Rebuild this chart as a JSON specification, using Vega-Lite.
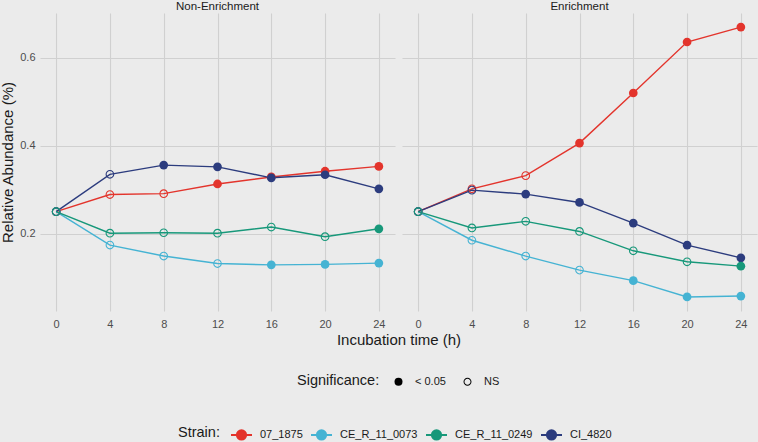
{
  "$schema": "https://vega.github.io/schema/vega-lite/v6.json",
  "background": "#EBEBEB",
  "padding": {"left": 0, "top": 0, "right": 1, "bottom": 0},
  "data": {"values": [
    {"panel":"Non-Enrichment","t":0,"strain":"07_1875","value":0.25,"sig":"NS"},
    {"panel":"Non-Enrichment","t":4,"strain":"07_1875","value":0.289,"sig":"NS"},
    {"panel":"Non-Enrichment","t":8,"strain":"07_1875","value":0.291,"sig":"NS"},
    {"panel":"Non-Enrichment","t":12,"strain":"07_1875","value":0.313,"sig":"< 0.05"},
    {"panel":"Non-Enrichment","t":16,"strain":"07_1875","value":0.329,"sig":"< 0.05"},
    {"panel":"Non-Enrichment","t":20,"strain":"07_1875","value":0.342,"sig":"< 0.05"},
    {"panel":"Non-Enrichment","t":24,"strain":"07_1875","value":0.353,"sig":"< 0.05"},
    {"panel":"Non-Enrichment","t":0,"strain":"CE_R_11_0073","value":0.25,"sig":"NS"},
    {"panel":"Non-Enrichment","t":4,"strain":"CE_R_11_0073","value":0.174,"sig":"NS"},
    {"panel":"Non-Enrichment","t":8,"strain":"CE_R_11_0073","value":0.149,"sig":"NS"},
    {"panel":"Non-Enrichment","t":12,"strain":"CE_R_11_0073","value":0.132,"sig":"NS"},
    {"panel":"Non-Enrichment","t":16,"strain":"CE_R_11_0073","value":0.129,"sig":"< 0.05"},
    {"panel":"Non-Enrichment","t":20,"strain":"CE_R_11_0073","value":0.130,"sig":"< 0.05"},
    {"panel":"Non-Enrichment","t":24,"strain":"CE_R_11_0073","value":0.133,"sig":"< 0.05"},
    {"panel":"Non-Enrichment","t":0,"strain":"CI_4820","value":0.25,"sig":"NS"},
    {"panel":"Non-Enrichment","t":4,"strain":"CI_4820","value":0.335,"sig":"NS"},
    {"panel":"Non-Enrichment","t":8,"strain":"CI_4820","value":0.356,"sig":"< 0.05"},
    {"panel":"Non-Enrichment","t":12,"strain":"CI_4820","value":0.352,"sig":"< 0.05"},
    {"panel":"Non-Enrichment","t":16,"strain":"CI_4820","value":0.327,"sig":"< 0.05"},
    {"panel":"Non-Enrichment","t":20,"strain":"CI_4820","value":0.334,"sig":"< 0.05"},
    {"panel":"Non-Enrichment","t":24,"strain":"CI_4820","value":0.302,"sig":"< 0.05"},
    {"panel":"Non-Enrichment","t":0,"strain":"CE_R_11_0249","value":0.25,"sig":"NS"},
    {"panel":"Non-Enrichment","t":4,"strain":"CE_R_11_0249","value":0.201,"sig":"NS"},
    {"panel":"Non-Enrichment","t":8,"strain":"CE_R_11_0249","value":0.202,"sig":"NS"},
    {"panel":"Non-Enrichment","t":12,"strain":"CE_R_11_0249","value":0.201,"sig":"NS"},
    {"panel":"Non-Enrichment","t":16,"strain":"CE_R_11_0249","value":0.215,"sig":"NS"},
    {"panel":"Non-Enrichment","t":20,"strain":"CE_R_11_0249","value":0.193,"sig":"NS"},
    {"panel":"Non-Enrichment","t":24,"strain":"CE_R_11_0249","value":0.211,"sig":"< 0.05"},
    {"panel":"Enrichment","t":0,"strain":"07_1875","value":0.25,"sig":"NS"},
    {"panel":"Enrichment","t":4,"strain":"07_1875","value":0.302,"sig":"NS"},
    {"panel":"Enrichment","t":8,"strain":"07_1875","value":0.332,"sig":"NS"},
    {"panel":"Enrichment","t":12,"strain":"07_1875","value":0.406,"sig":"< 0.05"},
    {"panel":"Enrichment","t":16,"strain":"07_1875","value":0.520,"sig":"< 0.05"},
    {"panel":"Enrichment","t":20,"strain":"07_1875","value":0.636,"sig":"< 0.05"},
    {"panel":"Enrichment","t":24,"strain":"07_1875","value":0.670,"sig":"< 0.05"},
    {"panel":"Enrichment","t":0,"strain":"CE_R_11_0073","value":0.25,"sig":"NS"},
    {"panel":"Enrichment","t":4,"strain":"CE_R_11_0073","value":0.185,"sig":"NS"},
    {"panel":"Enrichment","t":8,"strain":"CE_R_11_0073","value":0.149,"sig":"NS"},
    {"panel":"Enrichment","t":12,"strain":"CE_R_11_0073","value":0.117,"sig":"NS"},
    {"panel":"Enrichment","t":16,"strain":"CE_R_11_0073","value":0.093,"sig":"< 0.05"},
    {"panel":"Enrichment","t":20,"strain":"CE_R_11_0073","value":0.056,"sig":"< 0.05"},
    {"panel":"Enrichment","t":24,"strain":"CE_R_11_0073","value":0.058,"sig":"< 0.05"},
    {"panel":"Enrichment","t":0,"strain":"CI_4820","value":0.25,"sig":"NS"},
    {"panel":"Enrichment","t":4,"strain":"CI_4820","value":0.299,"sig":"NS"},
    {"panel":"Enrichment","t":8,"strain":"CI_4820","value":0.290,"sig":"< 0.05"},
    {"panel":"Enrichment","t":12,"strain":"CI_4820","value":0.271,"sig":"< 0.05"},
    {"panel":"Enrichment","t":16,"strain":"CI_4820","value":0.224,"sig":"< 0.05"},
    {"panel":"Enrichment","t":20,"strain":"CI_4820","value":0.174,"sig":"< 0.05"},
    {"panel":"Enrichment","t":24,"strain":"CI_4820","value":0.145,"sig":"< 0.05"},
    {"panel":"Enrichment","t":0,"strain":"CE_R_11_0249","value":0.25,"sig":"NS"},
    {"panel":"Enrichment","t":4,"strain":"CE_R_11_0249","value":0.213,"sig":"NS"},
    {"panel":"Enrichment","t":8,"strain":"CE_R_11_0249","value":0.228,"sig":"NS"},
    {"panel":"Enrichment","t":12,"strain":"CE_R_11_0249","value":0.205,"sig":"NS"},
    {"panel":"Enrichment","t":16,"strain":"CE_R_11_0249","value":0.161,"sig":"NS"},
    {"panel":"Enrichment","t":20,"strain":"CE_R_11_0249","value":0.136,"sig":"NS"},
    {"panel":"Enrichment","t":24,"strain":"CE_R_11_0249","value":0.126,"sig":"< 0.05"}
  ]},
  "facet": {
    "column": {
      "field": "panel",
      "type": "nominal",
      "sort": ["Non-Enrichment", "Enrichment"],
      "title": "Incubation time (h)",
      "header": {
        "titleOrient": "bottom",
        "labelOrient": "top",
        "labelFontSize": 11.5,
        "labelColor": "#1A1A1A",
        "labelPadding": 1,
        "titleFontSize": 15,
        "titleFontWeight": "normal",
        "titleColor": "#1A1A1A",
        "titlePadding": -6
      }
    }
  },
  "spacing": 7,
  "spec": {
    "width": 355,
    "height": 298,
    "layer": [
      {
        "mark": {"type": "line", "strokeWidth": 1.4},
        "encoding": {
          "x": {"field": "t", "type": "quantitative"},
          "y": {"field": "value", "type": "quantitative"},
          "color": {"field": "strain", "type": "nominal"}
        }
      },
      {
        "mark": {"type": "point", "filled": true, "size": 76, "strokeWidth": 0, "opacity": 1},
        "encoding": {
          "x": {
            "field": "t", "type": "quantitative",
            "scale": {"domain": [-1.2, 25.2], "nice": false, "zero": false},
            "axis": {"values": [0, 4, 8, 12, 16, 20, 24], "title": null, "labelPadding": 7}
          },
          "y": {
            "field": "value", "type": "quantitative",
            "scale": {"domain": [0.024, 0.702], "nice": false, "zero": false},
            "axis": {"values": [0.2, 0.4, 0.6], "format": ".1f", "title": "Relative Abundance (%)"}
          },
          "color": {
            "field": "strain", "type": "nominal",
            "scale": {"domain": ["07_1875", "CE_R_11_0073", "CE_R_11_0249", "CI_4820"], "range": ["#E3342C", "#45B3D3", "#17987A", "#2C3C7E"]},
            "legend": {
              "title": "Strain:",
              "orient": "none",
              "legendX": 138,
              "legendY": 410,
              "direction": "horizontal",
              "titleOrient": "left",
              "titlePadding": 10,
              "symbolType": "M-1,0L1,0M-0.44,0A0.44,0.44 0 1,0 0.44,0A0.44,0.44 0 1,0 -0.44,0",
              "symbolSize": 441,
              "symbolStrokeWidth": 2,
              "columnPadding": 4,
              "labelOffset": 7
            }
          },
          "stroke": {
            "field": "strain", "type": "nominal",
            "scale": {"domain": ["07_1875", "CE_R_11_0073", "CE_R_11_0249", "CI_4820"], "range": ["#E3342C", "#45B3D3", "#17987A", "#2C3C7E"]},
            "legend": {"title": "Strain:"}
          },
          "shape": {
            "field": "sig", "type": "nominal",
            "scale": {"domain": ["< 0.05", "NS"], "range": ["circle", "M-1,0A1,1 0 1,1 1,0A1,1 0 1,1 -1,0Z M-0.75,0A0.75,0.75 0 1,0 0.75,0A0.75,0.75 0 1,0 -0.75,0Z"]},
            "legend": {
              "title": "Significance:",
              "orient": "none",
              "legendX": 257,
              "legendY": 363,
              "direction": "horizontal",
              "titleOrient": "left",
              "titlePadding": 13,
              "symbolSize": 64,
              "symbolFillColor": "black",
              "symbolStrokeColor": "black",
              "symbolStrokeWidth": 0,
              "columnPadding": 16,
              "labelOffset": 11
            }
          }
        }
      }
    ]
  },
  "config": {
    "font": "Liberation Sans",
    "view": {"stroke": null, "fill": "#EBEBEB"},
    "axis": {
      "domain": false,
      "ticks": false,
      "grid": true,
      "gridColor": "#D0D0D0",
      "gridWidth": 1.1,
      "labelFontSize": 11,
      "labelColor": "#4D4D4D",
      "labelPadding": 5,
      "titleFontSize": 15,
      "titleFontWeight": "normal",
      "titleColor": "#1A1A1A"
    },
    "axisY": {"titlePadding": 4},
    "legend": {
      "titleFontSize": 14.5,
      "titleFontWeight": "normal",
      "titleColor": "#1A1A1A",
      "labelFontSize": 11,
      "labelColor": "#1A1A1A"
    }
  }
}
